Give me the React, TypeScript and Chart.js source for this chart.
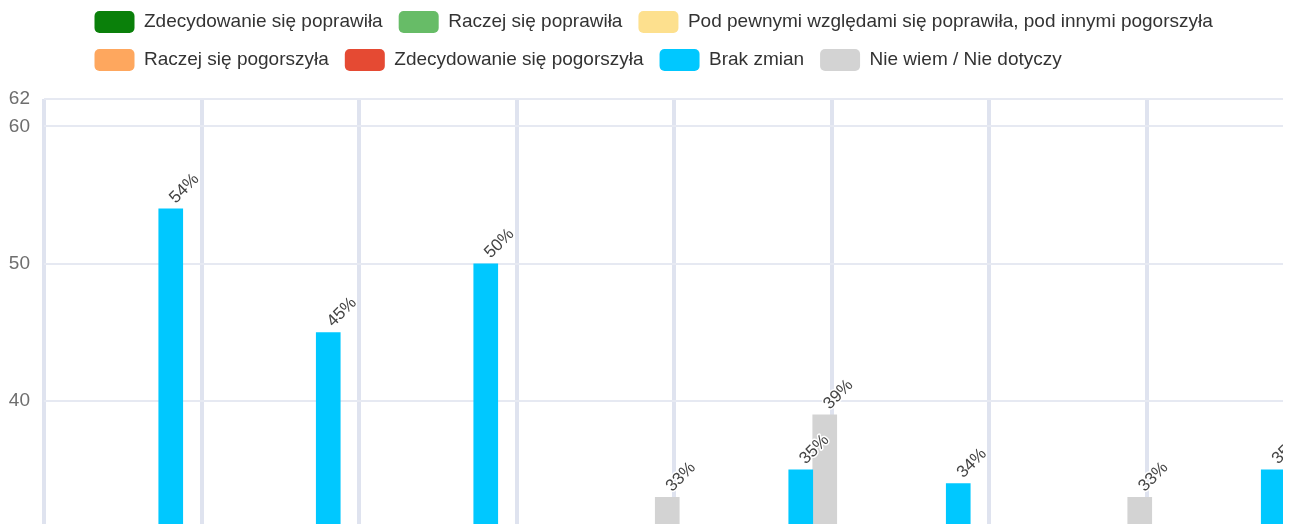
import React, { useEffect, useRef } from "react";
import { Chart, registerables } from "chart.js";

Chart.register(...registerables);

const categories = ["Obszar 1", "Obszar 2", "Obszar 3", "Obszar 4", "Obszar 5", "Obszar 6", "Obszar 7", "Obszar 8"];

const seriesNames = [
  "Zdecydowanie się poprawiła",
  "Raczej się poprawiła",
  "Pod pewnymi względami się poprawiła, pod innymi pogorszyła",
  "Raczej się pogorszyła",
  "Zdecydowanie się pogorszyła",
  "Brak zmian",
  "Nie wiem / Nie dotyczy",
];

const seriesColors = ["#0a800a", "#67bc67", "#fde08e", "#fea75e", "#e54a33", "#00c8ff", "#d3d3d3"];

const zdecydowaniePoprawila = [5, 8, 6, 9, 4, 10, 7, 6];
const raczejPoprawila = [14, 17, 15, 14, 9, 18, 13, 10];
const czesciowo = [9, 12, 10, 10, 6, 12, 11, 6];
const raczejPogorszyla = [8, 7, 9, 6, 4, 6, 8, 4];
const zdecydowaniePogorszyla = [4, 3, 4, 3, 3, 3, 4, 3];
const brakZmian = [54, 45, 50, 25, 35, 34, 24, 35];
const nieWiem = [6, 8, 6, 33, 39, 17, 33, 36];

const seriesValues = [
  zdecydowaniePoprawila,
  raczejPoprawila,
  czesciowo,
  raczejPogorszyla,
  zdecydowaniePogorszyla,
  brakZmian,
  nieWiem,
];

const yTickMax = 62;
const yTickStep = 10;

const FONT = "'Liberation Sans', Arial, Helvetica, sans-serif";

const valueLabels = {
  id: "valueLabels",
  afterDatasetsDraw(chart: any) {
    const { ctx } = chart;
    ctx.save();
    ctx.font = `17px ${FONT}`;
    ctx.textAlign = "left";
    ctx.textBaseline = "alphabetic";
    ctx.lineJoin = "round";
    chart.data.datasets.forEach((ds: any, di: number) => {
      const meta = chart.getDatasetMeta(di);
      if (meta.hidden) return;
      meta.data.forEach((bar: any, i: number) => {
        const v = ds.data[i];
        const { x, y } = bar.getProps(["x", "y"], true);
        const t = `${v}%`;
        ctx.save();
        ctx.translate(x + 5, y - 5);
        ctx.rotate(-Math.PI / 4);
        ctx.strokeStyle = "#ffffff";
        ctx.lineWidth = 3;
        ctx.strokeText(t, 0, 0);
        ctx.fillStyle = "#444444";
        ctx.fillText(t, 0, 0);
        ctx.restore();
      });
    });
    ctx.restore();
  },
};

const legendShift = {
  id: "legendShift",
  afterLayout(chart: any) {
    const l = chart.legend;
    if (!l) return;
    l.left += 70.5;
    l.right += 70.5;
    l.top -= 18;
    l.bottom -= 18;
  },
};

export default function App() {
  const canvasRef = useRef<HTMLCanvasElement | null>(null);

  useEffect(() => {
    if (!canvasRef.current) return;
    const chart = new Chart(canvasRef.current, {
      type: "bar",
      data: {
        labels: categories,
        datasets: seriesNames.map((name, i) => ({
          label: name,
          data: seriesValues[i],
          backgroundColor: seriesColors[i],
          borderWidth: 0,
          barThickness: 24,
        })),
      },
      options: {
        responsive: false,
        animation: false,
        layout: { padding: { top: 5, left: 0, right: 0, bottom: 11 } },
        plugins: {
          legend: {
            position: "top",
            align: "start",
            labels: {
              boxWidth: 40,
              boxHeight: 22,
              padding: 16,
              useBorderRadius: true,
              borderRadius: 5,
              color: "#333333",
              font: { family: FONT, size: 19 },
            },
          },
          tooltip: { enabled: false },
        },
        scales: {
          x: {
            offset: true,
            grid: { offset: true, color: "#dfe3ef", lineWidth: 4, drawTicks: false },
            border: { display: false },
            ticks: { display: false },
          },
          y: {
            min: 0,
            max: yTickMax,
            ticks: {
              stepSize: yTickStep,
              padding: 14,
              color: "#6e6e6e",
              font: { family: FONT, size: 19 },
            },
            grid: { color: "#e6e9f2", lineWidth: 2, drawTicks: false },
            border: { display: false },
            afterFit(scale: any) {
              scale.width = 36;
            },
          },
        },
      },
      plugins: [valueLabels, legendShift],
    });
    return () => chart.destroy();
  }, []);

  return (
    <div style={{ width: 1283, height: 516, overflow: "hidden" }}>
      <canvas ref={canvasRef} width={1296} height={968} style={{ display: "block" }} />
    </div>
  );
}
